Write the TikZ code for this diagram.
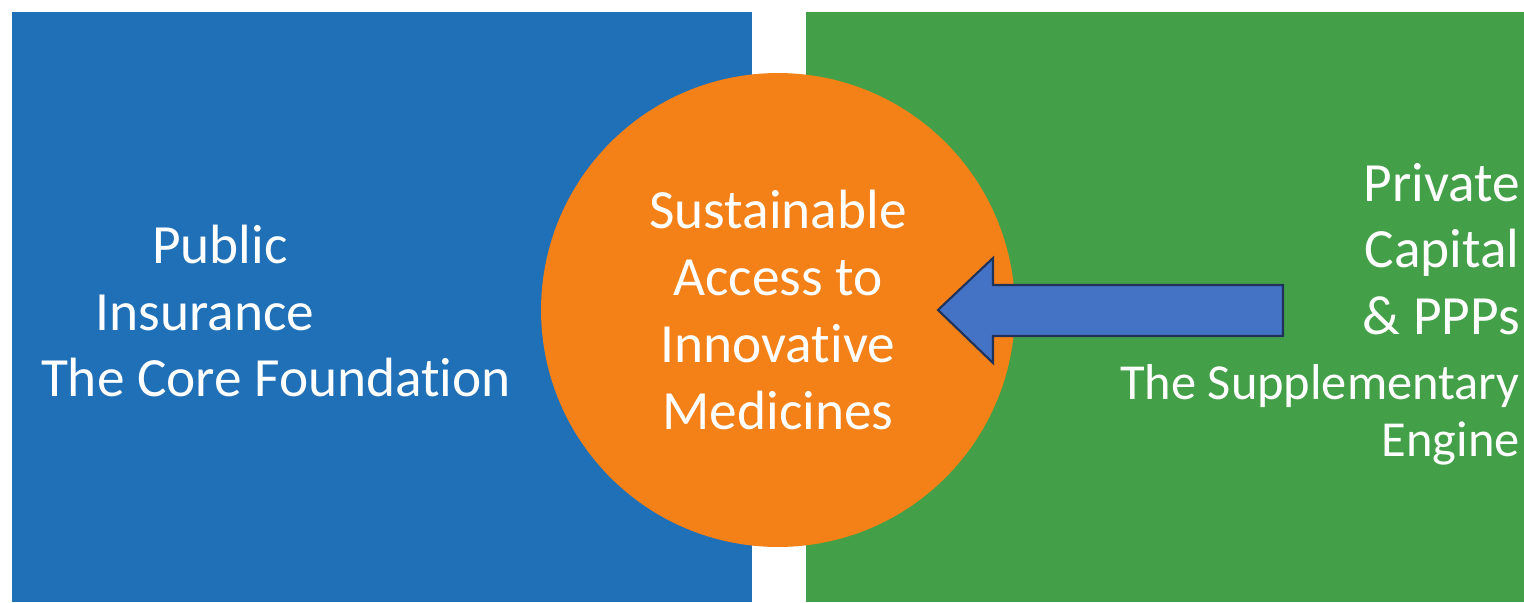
\documentclass[tikz,border=0pt]{standalone}
\usepackage{fontspec}
\setmainfont{Carlito}[Ligatures=NoCommon]
\usepackage{xcolor}
\usepackage{tikz}
\usetikzlibrary{positioning}
\definecolor{pubblue}{RGB}{32,112,184}
\definecolor{privgreen}{RGB}{67,160,72}
\definecolor{coreorange}{RGB}{244,128,24}
\definecolor{arrowblue}{RGB}{68,114,196}
\definecolor{arrowline}{RGB}{31,50,90}
\tikzset{
    panel/.style = {draw=none},
    bigtext/.style = {text=white, inner sep=0pt, font=\fontsize{31.5}{38}\selectfont},
}
\begin{document}
\begin{tikzpicture}[
	x=0.02cm,
	y=-0.02cm
]
\tikzset{
    hub/.style = {circle, fill=coreorange, minimum size=9.48cm, inner sep=0pt, align=center, bigtext},
    sidetext/.style = {bigtext},
    arrowbody/.style = {fill=arrowblue, draw=arrowline, line width=1.2pt, line join=miter}
}
\useasboundingbox (0,0) rectangle (1524,602);
\fill[pubblue] (12,12) rectangle (752,602);
\fill[privgreen] (806,12) rectangle (1524,602);
%
\node[hub] at (778,310) (access) {Sustainable\\Access to\\Innovative\\Medicines};
%
\node[sidetext, align=center] at (276,311) (public) {Public\rule{2.24cm}{0pt}\\Insurance\rule{2.84cm}{0pt}\\The Core Foundation};
\node[sidetext, align=right, anchor=east] at (1520,314) (private) {Private\\Capital\\\& PPPs\\[-1.3pt]{\fontsize{28.7}{33}\selectfont The Supplementary}\\[-5.5pt]{\fontsize{28.7}{33}\selectfont Engine}};
%
\draw[arrowbody] (938,310) -- (993,258) -- (993,285) -- (1283,285)
    -- (1283,336) -- (993,336) -- (993,363) -- cycle;
\end{tikzpicture}
\end{document}
